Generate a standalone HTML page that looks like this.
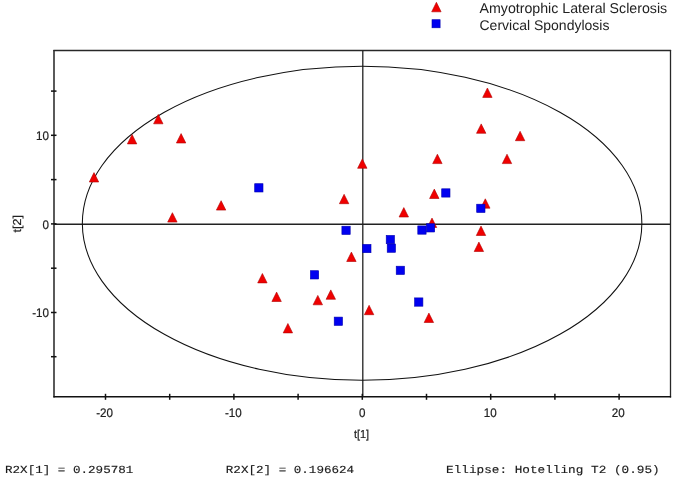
<!DOCTYPE html>
<html><head><meta charset="utf-8"><style>
html,body{margin:0;padding:0;background:#fff;}
svg{display:block;will-change:transform;text-rendering:geometricPrecision;}
.s{font-family:"Liberation Sans",sans-serif;}
.m{font-family:"Liberation Mono",monospace;}
</style></head><body>
<svg width="685" height="481" viewBox="0 0 685 481">
<rect width="685" height="481" fill="#fff"/>
<g fill="none">
<line x1="54" y1="49.9" x2="54" y2="397.5" stroke="#000" stroke-width="1.3"/>
<line x1="53.4" y1="50.5" x2="671.1" y2="50.5" stroke="#282828" stroke-width="1.3"/>
<line x1="670.5" y1="49.9" x2="670.5" y2="397.5" stroke="#282828" stroke-width="1.3"/>
<line x1="53.4" y1="396.8" x2="671.1" y2="396.8" stroke="#111" stroke-width="1.6"/>
<line x1="54" y1="224.3" x2="670.5" y2="224.3" stroke="#222" stroke-width="1.4"/>
<line x1="362.8" y1="50.5" x2="362.8" y2="396.8" stroke="#222" stroke-width="1.3"/>
<g stroke="#111" stroke-width="1.5"><line x1="105.5" y1="393.8" x2="105.5" y2="399.8"/><line x1="169.7" y1="393.8" x2="169.7" y2="399.8"/><line x1="233.9" y1="393.8" x2="233.9" y2="399.8"/><line x1="298.1" y1="393.8" x2="298.1" y2="399.8"/><line x1="362.3" y1="393.8" x2="362.3" y2="399.8"/><line x1="426.5" y1="393.8" x2="426.5" y2="399.8"/><line x1="490.7" y1="393.8" x2="490.7" y2="399.8"/><line x1="554.9" y1="393.8" x2="554.9" y2="399.8"/><line x1="619.1" y1="393.8" x2="619.1" y2="399.8"/><line x1="51" y1="356.7" x2="56.5" y2="356.7"/><line x1="51" y1="312.5" x2="56.5" y2="312.5"/><line x1="51" y1="268.2" x2="56.5" y2="268.2"/><line x1="51" y1="223.9" x2="56.5" y2="223.9"/><line x1="51" y1="179.6" x2="56.5" y2="179.6"/><line x1="51" y1="135.3" x2="56.5" y2="135.3"/><line x1="51" y1="91.1" x2="56.5" y2="91.1"/></g>
</g>
<ellipse cx="362.1" cy="223.3" rx="279.75" ry="157" fill="none" stroke="#111" stroke-width="1.05"/>
<g fill="#f00000" stroke="#b00000" stroke-width="0.6">
<path d="M94.0 172.6L98.7 182.0L89.3 182.0Z"/><path d="M132.1 134.5L136.8 143.9L127.4 143.9Z"/><path d="M158.3 114.4L163.0 123.8L153.6 123.8Z"/><path d="M181.1 133.6L185.8 143.0L176.4 143.0Z"/><path d="M172.4 212.7L177.1 222.1L167.7 222.1Z"/><path d="M221.1 200.7L225.8 210.1L216.4 210.1Z"/><path d="M362.3 158.9L367.0 168.3L357.6 168.3Z"/><path d="M344.1 194.3L348.8 203.7L339.4 203.7Z"/><path d="M403.8 207.6L408.5 217.0L399.1 217.0Z"/><path d="M437.4 154.2L442.1 163.6L432.7 163.6Z"/><path d="M434.3 189.1L439.0 198.5L429.6 198.5Z"/><path d="M432.0 218.1L436.7 227.5L427.3 227.5Z"/><path d="M487.4 88.0L492.1 97.4L482.7 97.4Z"/><path d="M481.2 123.9L485.9 133.3L476.5 133.3Z"/><path d="M520.1 131.3L524.8 140.7L515.4 140.7Z"/><path d="M507.0 154.2L511.7 163.6L502.3 163.6Z"/><path d="M485.3 198.8L490.0 208.2L480.6 208.2Z"/><path d="M481.0 226.1L485.7 235.5L476.3 235.5Z"/><path d="M478.9 242.1L483.6 251.5L474.2 251.5Z"/><path d="M262.4 273.5L267.1 282.9L257.7 282.9Z"/><path d="M276.6 292.1L281.3 301.5L271.9 301.5Z"/><path d="M287.9 323.5L292.6 332.9L283.2 332.9Z"/><path d="M317.8 295.4L322.5 304.8L313.1 304.8Z"/><path d="M330.8 289.9L335.5 299.3L326.1 299.3Z"/><path d="M351.4 252.1L356.1 261.5L346.7 261.5Z"/><path d="M369.1 305.3L373.8 314.7L364.4 314.7Z"/><path d="M428.9 313.1L433.6 322.5L424.2 322.5Z"/>
</g>
<g fill="#0000f0" stroke="#0000b0" stroke-width="0.6">
<rect x="254.7" y="183.7" width="8.3" height="8.3"/><rect x="341.9" y="226.2" width="8.3" height="8.3"/><rect x="362.7" y="244.4" width="8.3" height="8.3"/><rect x="386.2" y="235.4" width="8.3" height="8.3"/><rect x="387.2" y="244.0" width="8.3" height="8.3"/><rect x="396.2" y="266.2" width="8.3" height="8.3"/><rect x="310.4" y="270.7" width="8.3" height="8.3"/><rect x="334.2" y="317.1" width="8.3" height="8.3"/><rect x="414.6" y="297.9" width="8.3" height="8.3"/><rect x="417.8" y="225.9" width="8.3" height="8.3"/><rect x="426.4" y="223.7" width="8.3" height="8.3"/><rect x="441.7" y="188.8" width="8.3" height="8.3"/><rect x="476.7" y="204.2" width="8.3" height="8.3"/>
</g>
<g class="s" font-size="12.5" fill="#222" stroke="#222" stroke-width="0.2">
<text transform="translate(113.0 417) scale(0.93 1)" text-anchor="end">-20</text><text transform="translate(241.8 417) scale(0.93 1)" text-anchor="end">-10</text><text transform="translate(365.5 417) scale(0.93 1)" text-anchor="end">0</text><text transform="translate(496.8 417) scale(0.93 1)" text-anchor="end">10</text><text transform="translate(624.6 417) scale(0.93 1)" text-anchor="end">20</text>
<text transform="translate(49 140.1) scale(0.93 1)" text-anchor="end">10</text><text transform="translate(49 228.7) scale(0.93 1)" text-anchor="end">0</text><text transform="translate(49 317.2) scale(0.93 1)" text-anchor="end">-10</text>
<text transform="translate(361.5 438) scale(0.95 1)" text-anchor="middle" font-size="11.5">t[1]</text>
<text transform="translate(21.3 223.8) rotate(-90) scale(1.08 1)" text-anchor="middle" font-size="11.5">t[2]</text>
</g>
<path d="M436.4 2.3L441.1 11.8L431.7 11.8Z" fill="#f00000" stroke="#b00000" stroke-width="0.6"/>
<rect x="432" y="19.7" width="8.1" height="8.1" fill="#0000f0" stroke="#0000b0" stroke-width="0.6"/>
<g class="s" fill="#222">
<text x="479.5" y="12.9" font-size="14.2">Amyotrophic Lateral Sclerosis</text>
<text x="479.5" y="29.8" font-size="14">Cervical Spondylosis</text>
</g>
<g class="m" font-size="12.58" fill="#1a1a1a" stroke="#1a1a1a" stroke-width="0.15">
<text transform="translate(5 473) scale(1 0.86)">R2X[1] = 0.295781</text>
<text transform="translate(225.8 473) scale(1 0.86)">R2X[2] = 0.196624</text>
<text transform="translate(446 473) scale(1 0.86)" font-size="12.72">Ellipse: Hotelling T2 (0.95)</text>
</g>
</svg>
</body></html>
